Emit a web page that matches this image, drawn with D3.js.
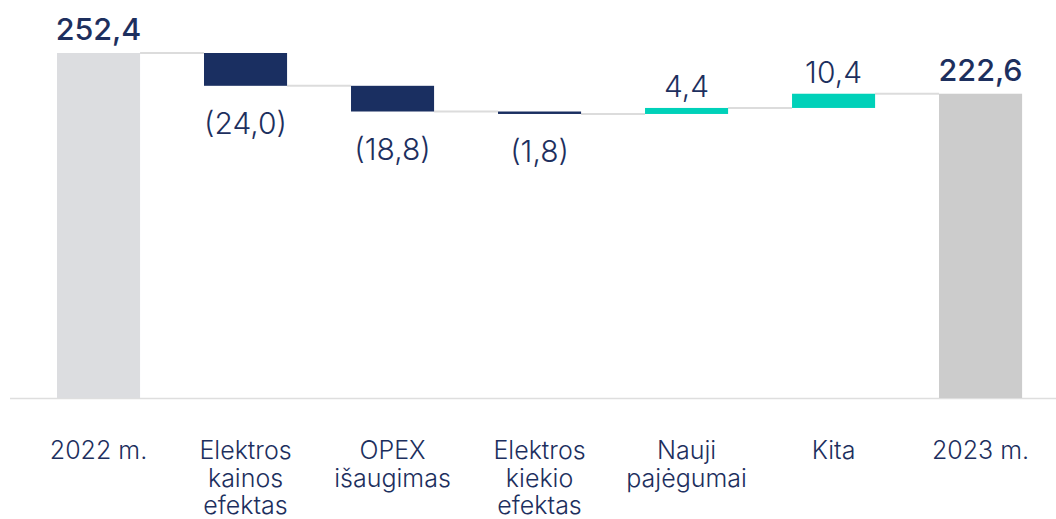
<!DOCTYPE html>
<html lang="lt">
<head>
  <meta charset="UTF-8">
  <title>Waterfall</title>
  <script src="https://d3js.org/d3.v7.min.js"></script>
  <style>
    body { margin: 0; background: #fff; }
    text { font-family: Inter, "Noto Sans", sans-serif; fill: #1d2f5e; }
    .cat { font-size: 25px; font-weight: 300; }
    .val { font-size: 30px; font-weight: 300; }
    .total { font-size: 30.5px; font-weight: 500; }
  </style>
</head>
<body>
  <div id="chart"></div>
  <script>
    const categories = [["2022 m."], ["Elektros", "kainos", "efektas"], ["OPEX", "išaugimas"],
                        ["Elektros", "kiekio", "efektas"], ["Nauji", "pajėgumai"], ["Kita"], ["2023 m."]];
    const values = [252.4, -24.0, -18.8, -1.8, 4.4, 10.4, 222.6];
    const kinds = ["total", "delta", "delta", "delta", "delta", "delta", "total"];
    const labels = ["252,4", "(24,0)", "(18,8)", "(1,8)", "4,4", "10,4", "222,6"];

    const W = 1056, H = 519;
    const baseY = 398;

    const svg = d3.select("#chart").append("svg")
      .attr("width", W).attr("height", H);

    const x = d3.scaleBand()
      .domain(d3.range(categories.length))
      .range([27.6, 1051.5])
      .paddingInner(0.435)
      .paddingOuter(0.2);

    const y = d3.scaleLinear()
      .domain([0, 252.4])
      .range([baseY, 53]);

    // start / end of each bar
    let run = 0;
    const bars = values.map((v, i) => {
      let a, b;
      if (kinds[i] === "total") { a = 0; b = v; run = v; }
      else { a = run; b = run + v; run = b; }
      return { i, v, a, b, kind: kinds[i], label: labels[i] };
    });

    // baseline
    svg.append("line")
      .attr("x1", 10).attr("x2", W)
      .attr("y1", baseY + 0.5).attr("y2", baseY + 0.5)
      .attr("stroke", "#dedede").attr("stroke-width", 1.5);

    // connectors
    bars.slice(0, -1).forEach(d => {
      svg.append("line")
        .attr("x1", x(d.i) + x.bandwidth())
        .attr("x2", x(d.i + 1))
        .attr("y1", y(d.b)).attr("y2", y(d.b))
        .attr("stroke", "#dcdcdc").attr("stroke-width", 2);
    });

    const color = (d, i) => {
      if (d.kind === "total") return i === 0 ? "#dcdde0" : "#cccccc";
      return d.v < 0 ? "#1a2f61" : "#00d1b9";
    };

    svg.selectAll(".bar")
      .data(bars)
      .enter()
      .append("rect")
      .attr("class", "bar")
      .attr("x", d => x(d.i))
      .attr("width", x.bandwidth())
      .attr("y", d => y(Math.max(d.a, d.b)))
      .attr("height", d => Math.max(2, Math.abs(y(d.a) - y(d.b))))
      .attr("fill", (d, i) => color(d, i));

    // value labels
    svg.selectAll(".lbl")
      .data(bars)
      .enter()
      .append("text")
      .attr("class", d => d.kind === "total" ? "total" : "val")
      .attr("text-anchor", "middle")
      .attr("x", d => x(d.i) + x.bandwidth() / 2)
      .attr("y", d => {
        if (d.kind === "total") return y(d.b) - 13;
        if (d.v < 0) return y(Math.min(d.a, d.b)) + 48;
        return y(d.b) - 11;
      })
      .text(d => d.label);

    // category labels
    const cat = svg.selectAll(".cat")
      .data(categories)
      .enter()
      .append("text")
      .attr("class", "cat")
      .attr("text-anchor", "middle")
      .attr("x", (d, i) => x(i) + x.bandwidth() / 2)
      .attr("y", 459);
    cat.selectAll("tspan")
      .data(d => d)
      .enter()
      .append("tspan")
      .attr("x", function () { return d3.select(this.parentNode).attr("x"); })
      .attr("dy", (d, j) => j === 0 ? 0 : 27.5)
      .text(d => d);
  </script>
</body>
</html>
